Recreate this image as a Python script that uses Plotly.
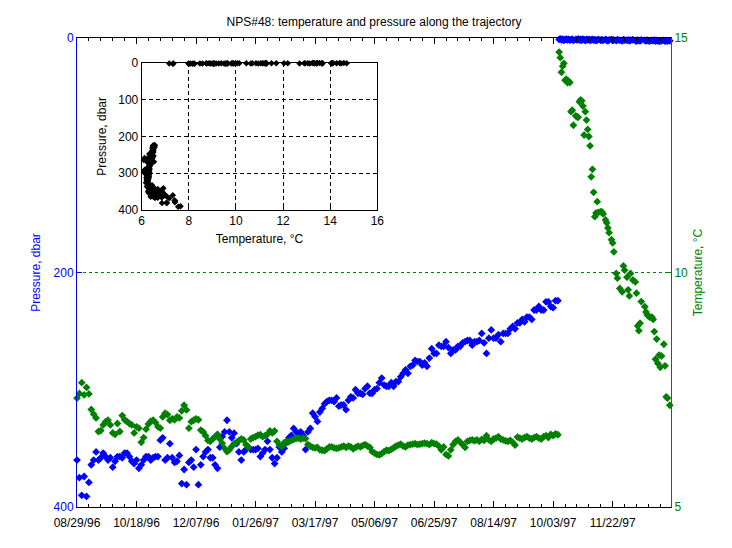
import pandas as pd
import plotly.graph_objects as go

# ---------------- data ----------------
start_date = "1996-08-29"
deep_step_days = 2   # deep samples every 2 days, day 0 .. 404

deep_pressure = [
    360, 375, 390, 374, 391, 379, 364, 360, 353, 360,
    358, 354, 357, 360, 358, 366, 361, 357, 357, 358,
    354, 354, 357, 361, 363, 360, 367, 364, 360, 357,
    357, 360, 358, 357, 357, 343, 341, 360, 358, 346,
    358, 362, 361, 356, 380, 368, 381, 362, 360, 366,
    351, 381, 364, 357, 353, 351, 358, 358, 364, 367,
    349, 340, 336, 326, 336, 341, 337, 346, 353, 360,
    353, 351, 349, 351, 351, 351, 350, 357, 354, 351,
    344, 351, 358, 363, 358, 349, 353, 350, 345, 341,
    339, 333, 336, 337, 336, 339, 351, 336, 333, 320,
    323, 327, 319, 316, 312, 310, 309, 309, 310, 307,
    314, 313, 313, 317, 309, 306, 307, 300, 303, 303,
    304, 299, 297, 303, 303, 300, 299, 294, 290, 296,
    297, 297, 294, 297, 293, 293, 289, 286, 283, 286,
    280, 279, 275, 276, 276, 279, 277, 280, 273, 265,
    269, 269, 262, 263, 263, 259, 264, 269, 266, 266,
    263, 263, 260, 259, 258, 258, 262, 259, 259, 258,
    252, 260, 269, 256, 249, 256, 256, 253, 259, 252,
    252, 252, 248, 246, 248, 243, 243, 240, 242, 238,
    238, 240, 232, 232, 229, 232, 232, 225, 225, 229,
    230, 224, 224,
]

deep_temperature = [
    7.32, 7.42, 7.65, 7.39, 7.55, 7.41, 7.08, 6.98, 6.90, 6.61,
    6.63, 6.75, 6.82, 6.85, 6.75, 6.58, 6.55, 6.78, 6.61, 6.95,
    6.86, 6.82, 6.78, 6.75, 6.58, 6.71, 6.68, 6.38, 6.48, 6.66,
    6.77, 6.83, 6.85, 6.80, 6.71, 6.68, 6.92, 7.00, 6.97, 6.85,
    6.88, 6.86, 6.92, 6.90, 7.05, 7.17, 7.07, 6.68, 6.82, 6.85,
    6.88, 6.86, 6.64, 6.60, 6.52, 6.42, 6.40, 6.45, 6.50, 6.55,
    6.45, 6.36, 6.25, 6.18, 6.22, 6.29, 6.35, 6.38, 6.42, 6.45,
    6.43, 6.33, 6.27, 6.45, 6.48, 6.50, 6.53, 6.54, 6.50, 6.52,
    6.55, 6.62, 6.58, 6.62, 6.40, 6.32, 6.29, 6.37, 6.40, 6.39,
    6.42, 6.44, 6.46, 6.47, 6.45, 6.47, 6.46, 6.33, 6.30, 6.27,
    6.26, 6.27, 6.22, 6.21, 6.20, 6.24, 6.28, 6.28, 6.26, 6.25,
    6.26, 6.28, 6.30, 6.27, 6.30, 6.28, 6.24, 6.27, 6.30, 6.28,
    6.31, 6.33, 6.30, 6.27, 6.18, 6.15, 6.12, 6.11, 6.14, 6.18,
    6.21, 6.20, 6.23, 6.26, 6.30, 6.32, 6.34, 6.30, 6.28, 6.32,
    6.33, 6.34, 6.35, 6.33, 6.34, 6.35, 6.36, 6.35, 6.33, 6.37,
    6.35, 6.34, 6.30, 6.22, 6.28, 6.12, 6.09, 6.22, 6.33, 6.40,
    6.43, 6.38, 6.33, 6.27, 6.40, 6.42, 6.43, 6.41, 6.43, 6.40,
    6.44, 6.42, 6.52, 6.43, 6.40, 6.45, 6.47, 6.50, 6.45, 6.43,
    6.41, 6.40, 6.42, 6.38, 6.32, 6.49, 6.47, 6.45, 6.48, 6.50,
    6.47, 6.45, 6.48, 6.50, 6.47, 6.45, 6.50, 6.52, 6.48, 6.55,
    6.52, 6.56, 6.54,
]

# surface drift phase (days after start)
surface_days = [
    405, 406, 407, 408, 409, 410, 411, 412, 413, 414,
    415, 416, 417, 419, 420, 421, 422, 423, 424, 425,
    426, 427, 428, 429, 430, 431, 432, 433, 434, 435,
    436, 437, 438, 440, 441, 442, 444, 445, 446, 447,
    449, 450, 451, 453, 454, 456, 458, 459, 460, 462,
    463, 464, 465, 467, 469, 470, 471, 472, 473, 474,
    477, 478, 479, 480, 481, 483, 484, 485, 486, 487,
    488, 489, 490, 491, 493, 494, 495, 496, 498,
]
surface_temperature = [
    14.70, 14.58, 14.27, 14.40, 14.46, 14.10, 14.12, 14.05, 14.08, 14.05,
    13.43, 13.46, 13.14, 13.34, 13.32, 13.31, 13.64, 13.68, 13.66, 13.55,
    12.93, 13.43, 13.25, 13.05, 12.90, 12.70, 12.04, 12.20, 11.71, 11.19,
    11.27, 11.51, 11.28, 11.30, 11.29, 11.25, 11.12, 11.06, 10.95, 10.85,
    10.70, 10.63, 10.44, 9.98, 9.88, 9.66, 9.59, 10.14, 10.05, 9.90,
    9.63, 9.50, 9.98, 9.84, 9.80, 9.56, 8.86, 8.76, 8.92, 9.38,
    9.27, 9.16, 9.10, 9.07, 9.05, 9.05, 9.00, 8.74, 8.15, 8.58,
    8.06, 8.24, 7.98, 8.22, 8.47, 8.01, 7.35, 7.32, 7.17,
]
surface_pressure = [
    1.2, 0.8, 1.5, 1.0, 2.0, 1.3, 0.9, 1.6, 1.1, 1.8,
    1.4, 1.0, 2.1, 1.2, 1.5, 0.8, 1.7, 1.3, 1.9, 1.0,
    1.4, 2.2, 1.1, 1.6, 1.3, 2.0, 1.5, 1.2, 1.8, 1.4,
    2.3, 1.6, 1.1, 1.9, 1.5, 2.1, 1.3, 1.8, 2.4, 1.6,
    1.2, 2.0, 1.7, 2.2, 1.5, 1.9, 2.5, 1.4, 1.8, 2.1,
    1.6, 2.3, 1.9, 1.5, 2.2, 2.6, 1.8, 2.0, 2.4, 1.7,
    2.1, 2.5, 1.9, 2.2, 2.7, 2.0, 2.3, 1.8, 2.6, 2.1,
    2.4, 2.8, 2.2, 2.5, 2.0, 2.7, 2.3, 2.6, 2.4,
]

x_tick_labels = ["08/29/96", "10/18/96", "12/07/96", "01/26/97", "03/17/97",
                 "05/06/97", "06/25/97", "08/14/97", "10/03/97", "11/22/97"]
axis_end_days = 499

# ---------------- assemble ----------------
t0 = pd.Timestamp(start_date)
deep_days = [i * deep_step_days for i in range(len(deep_pressure))]
days = deep_days + surface_days
dates = [t0 + pd.Timedelta(days=d) for d in days]
pressure = deep_pressure + surface_pressure
temperature = deep_temperature + surface_temperature

tickvals = list(pd.to_datetime(x_tick_labels, format="%m/%d/%y"))
x_end = t0 + pd.Timedelta(days=axis_end_days)
minor_vals = [t0 + pd.Timedelta(days=d) for d in range(0, axis_end_days + 1, 10)]

BLUE = "#0000FF"
GREEN = "#008000"
FONT = "Liberation Sans, Arial, Helvetica, sans-serif"

# page body has an 8px margin: figure is placed at (8, 8)
W, H = 716, 532

fig = go.Figure()
fig.add_trace(go.Scatter(x=dates, y=pressure, mode="markers", yaxis="y", xaxis="x",
                         marker=dict(symbol="diamond", size=6, color=BLUE),
                         cliponaxis=False, hoverinfo="skip"))
fig.add_trace(go.Scatter(x=dates, y=temperature, mode="markers", yaxis="y2", xaxis="x",
                         marker=dict(symbol="diamond", size=6, color=GREEN),
                         cliponaxis=False, hoverinfo="skip"))
fig.add_trace(go.Scatter(x=temperature, y=pressure, mode="markers", xaxis="x3", yaxis="y3",
                         marker=dict(symbol="diamond", size=5, color="black"),
                         cliponaxis=False, hoverinfo="skip"))

fig.update_layout(
    template="none",
    width=W, height=H,
    margin=dict(l=69, r=53, t=30, b=33, autoexpand=False),
    paper_bgcolor="white", plot_bgcolor="white",
    font=dict(family=FONT, size=12, color="black"),
    showlegend=False,
    title=dict(text="NPS#48: temperature and pressure along the trajectory",
               x=0.5, xref="paper", xanchor="center",
               y=1 - 14 / H, yref="container", yanchor="middle",
               font=dict(family=FONT, size=12, color="black")),
    xaxis=dict(domain=[0, 1], type="date", range=[t0, x_end],
               tickmode="array", tickvals=tickvals, ticktext=x_tick_labels,
               ticks="inside", ticklen=6, tickcolor="black", tickwidth=1,
               ticklabelstandoff=5,
               showline=True, linecolor="black", linewidth=1, mirror="ticks",
               showgrid=False, zeroline=False, automargin=False,
               tickfont=dict(size=12, color="black"),
               minor=dict(tickvals=minor_vals, ticks="inside", ticklen=3,
                          tickcolor="black", showgrid=False)),
    yaxis=dict(range=[400, 0], tickmode="array", tickvals=[0, 200, 400],
               ticks="inside", ticklen=5, tickcolor=BLUE,
               showline=True, linecolor=BLUE, linewidth=1,
               showgrid=False, zeroline=False, automargin=False,
               tickfont=dict(size=12, color=BLUE),
               title=dict(text="Pressure, dbar", font=dict(size=12, color=BLUE), standoff=10)),
    yaxis2=dict(overlaying="y", side="right", anchor="x", range=[5, 15],
                tickmode="array", tickvals=[5, 10, 15],
                ticks="inside", ticklen=5, tickcolor=GREEN,
                showline=True, linecolor=GREEN, linewidth=1,
                showgrid=True, gridcolor=GREEN, gridwidth=1, griddash="3px,3px",
                zeroline=False, automargin=False,
                tickfont=dict(size=12, color=GREEN),
                title=dict(text="Temperature, °C", font=dict(size=12, color=GREEN), standoff=6)),
    xaxis3=dict(domain=[(141.7 - 77) / 594, (377.3 - 77) / 594], anchor="y3",
                range=[6, 16], tickmode="array", tickvals=[6, 8, 10, 12, 14, 16],
                ticks="inside", ticklen=4, tickcolor="black",
                showline=True, linecolor="black", linewidth=1, mirror=True,
                showgrid=True, gridcolor="black", gridwidth=1, griddash="4px,3px",
                zeroline=False, automargin=False,
                tickfont=dict(size=12, color="black"),
                title=dict(text="Temperature, °C", font=dict(size=12, color="black"), standoff=7)),
    yaxis3=dict(domain=[(507 - 210) / 469, (507 - 62.7) / 469], anchor="x3",
                range=[400, 0], tickmode="array", tickvals=[0, 100, 200, 300, 400],
                ticks="inside", ticklen=4, tickcolor="black",
                showline=True, linecolor="black", linewidth=1, mirror=True,
                showgrid=True, gridcolor="black", gridwidth=1, griddash="4px,3px",
                zeroline=False, automargin=False,
                tickfont=dict(size=12, color="black"),
                title=dict(text="Pressure, dbar", font=dict(size=12, color="black"), standoff=9)),
)

fig.write_html("out.html")
